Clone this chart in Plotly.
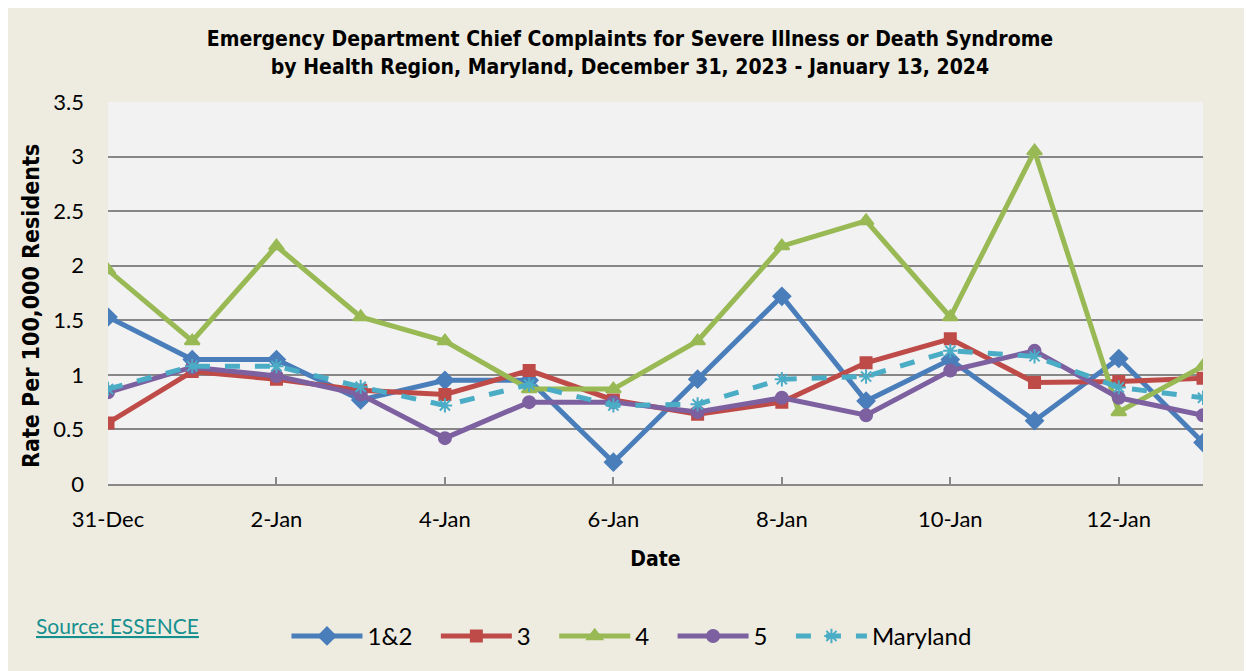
import plotly.graph_objects as go

dates = ["31-Dec", "1-Jan", "2-Jan", "3-Jan", "4-Jan", "5-Jan", "6-Jan",
         "7-Jan", "8-Jan", "9-Jan", "10-Jan", "11-Jan", "12-Jan", "13-Jan"]
tick_labels = ["31-Dec", "2-Jan", "4-Jan", "6-Jan", "8-Jan", "10-Jan", "12-Jan"]

region_12 = [1.53, 1.14, 1.14, 0.77, 0.95, 0.95, 0.20, 0.96, 1.72, 0.76, 1.14, 0.58, 1.15, 0.38]
region_3 = [0.56, 1.03, 0.96, 0.86, 0.82, 1.04, 0.77, 0.64, 0.75, 1.11, 1.33, 0.93, 0.94, 0.97]
region_4 = [1.96, 1.31, 2.18, 1.53, 1.31, 0.87, 0.87, 1.31, 2.18, 2.41, 1.53, 3.05, 0.66, 1.08]
region_5 = [0.84, 1.07, 0.99, 0.82, 0.42, 0.75, 0.75, 0.66, 0.79, 0.63, 1.04, 1.22, 0.79, 0.63]
maryland = [0.87, 1.08, 1.08, 0.89, 0.72, 0.91, 0.72, 0.73, 0.96, 0.985, 1.22, 1.17, 0.885, 0.79]

names = ["1&2", "3", "4", "5", "Maryland"]

series = [
    (names[0], region_12, "#4A7EBB", "diamond", "solid", 13),
    (names[1], region_3, "#BE4B48", "square", "solid", 11),
    (names[2], region_4, "#98B954", "triangle-up", "solid", 13),
    (names[3], region_5, "#7D60A0", "circle", "solid", 12),
    (names[4], maryland, "#4BACC6", "asterisk-open", "dash", 12),
]

PAD = "\u00a0\u00a0\u00a0"

fig = go.Figure()
for name, vals, color, sym, dash, msize in series:
    fig.add_trace(go.Scatter(
        x=dates, y=vals, name=name + (PAD if name != "Maryland" else ""),
        mode="lines+markers",
        line=dict(color=color, width=5, dash=dash),
        marker=dict(symbol=sym, size=msize, color=color,
                    line=dict(color=color, width=2)),
    ))

TITLE_FONT = "DejaVu Sans Condensed, Liberation Sans"

fig.update_layout(
    width=1244, height=663,
    paper_bgcolor="#EEECE1", plot_bgcolor="#F2F2F2",
    margin=dict(l=100, r=49, t=94, b=187, autoexpand=False),
    title=dict(
        text="Emergency Department Chief Complaints for Severe Illness or Death Syndrome<br>"
             "by Health Region, Maryland, December 31, 2023 - January 13, 2024",
        x=0.5, xanchor="center", y=0.942, yanchor="top",
        font=dict(family=TITLE_FONT, size=21, color="#000000", weight="bold"),
    ),
    font=dict(family="Lato, Open Sans", color="#000000"),
    legend=dict(orientation="h", x=0.163, xanchor="left", y=-0.34, yanchor="top",
                font=dict(size=24, family="Lato"), bgcolor="rgba(0,0,0,0)",
                itemwidth=71, tracegroupgap=0),
    showlegend=True,
    annotations=[
        dict(text="<u>Source: ESSENCE</u>", xref="paper", yref="paper",
             x=-0.068, y=-0.332, xanchor="left", yanchor="top", showarrow=False,
             font=dict(size=21, color="#16908F", family="Lato")),
        dict(text="<b>Rate Per 100,000 Residents</b>", xref="paper", yref="paper",
             x=-0.0703, y=0.466, xanchor="center", yanchor="middle", textangle=-90,
             showarrow=False, font=dict(size=23, family=TITLE_FONT, color="#000000")),
    ],
)

fig.update_xaxes(
    type="category", categoryorder="array", categoryarray=dates,
    range=[0, 13], tickvals=tick_labels, ticktext=tick_labels,
    ticks="inside", ticklen=7, tickcolor="#888888", tickwidth=2,
    showline=True, linecolor="#888888", linewidth=2,
    showgrid=False, tickfont=dict(size=22, family="Lato"),
    ticklabelstandoff=15,
    title=dict(text="<b>Date</b>", font=dict(size=21, family=TITLE_FONT), standoff=20),
)
fig.update_yaxes(
    range=[0, 3.5], tickvals=[0, 0.5, 1, 1.5, 2, 2.5, 3, 3.5],
    ticktext=["0", "0.5", "1", "1.5", "2", "2.5", "3", "3.5"],
    showgrid=True, gridcolor="#878787", gridwidth=2, zeroline=False,
    showline=False, ticks="", tickfont=dict(size=22, family="Lato"),
    ticklabelstandoff=23,
)

fig.write_html("out.html")
